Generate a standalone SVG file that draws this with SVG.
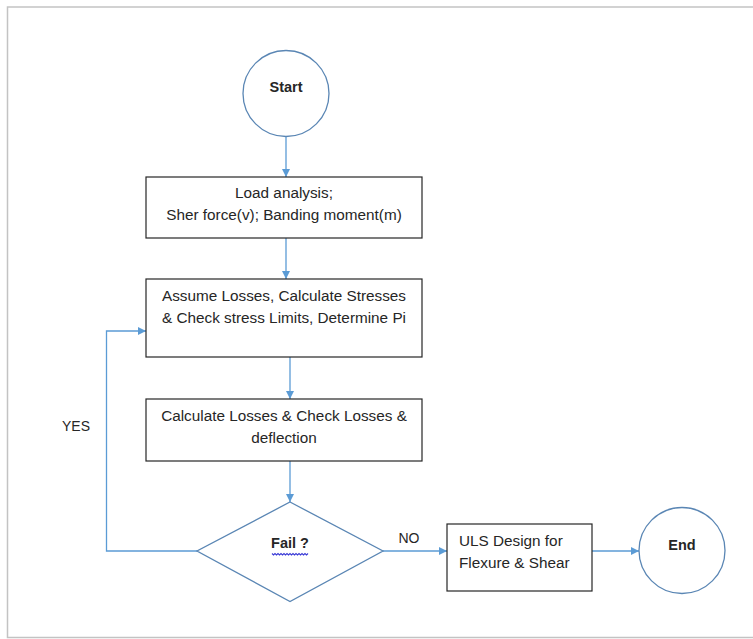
<svg xmlns="http://www.w3.org/2000/svg" width="753" height="639" viewBox="0 0 753 639">
<style>
.frame{fill:none;stroke:#c3c3c3;stroke-width:1.5}
.box{fill:#fff;stroke:#262626;stroke-width:1.2}
.term{fill:#fff;stroke:#5a86b4;stroke-width:1.3}
.conn{fill:none;stroke:#5b9bd5;stroke-width:1.3}
text{font-family:"Liberation Sans",Arial,sans-serif;font-size:15.3px;fill:#262626}
.c{text-anchor:middle}
.b{font-weight:bold;font-size:14.5px}
.lbl{font-size:14px}
.wavy{fill:none;stroke:#3a3ad6;stroke-width:1.1}
</style>
<defs>
<marker id="arr" markerUnits="userSpaceOnUse" markerWidth="9" markerHeight="8" refX="8" refY="4" orient="auto">
<path d="M0,0 L8,4 L0,8 z" fill="#5b9bd5"/>
</marker>
</defs>
<rect width="753" height="639" fill="#fff"/>
<path class="frame" d="M760,7 L7.5,7 L7.5,637.5 L760,637.5"/>
<g id="connectors">
<line class="conn" x1="286" y1="137" x2="286" y2="177" marker-end="url(#arr)"/>
<line class="conn" x1="286" y1="238" x2="286" y2="279" marker-end="url(#arr)"/>
<line class="conn" x1="290" y1="357" x2="290" y2="399" marker-end="url(#arr)"/>
<line class="conn" x1="290" y1="461" x2="290" y2="502" marker-end="url(#arr)"/>
<polyline class="conn" points="197,551 106.5,551 106.5,331 146,331" marker-end="url(#arr)"/>
<line class="conn" x1="383" y1="551" x2="447" y2="551" marker-end="url(#arr)"/>
<line class="conn" x1="592" y1="551" x2="639" y2="551" marker-end="url(#arr)"/>
<text x="76" y="431" class="c lbl">YES</text>
<text x="409" y="543" class="c lbl">NO</text>
</g>
<g id="start">
<circle class="term" cx="286" cy="93.5" r="43"/>
<text x="286" y="91.5" class="c b">Start</text>
</g>
<g id="load">
<rect class="box" x="146" y="177" width="276" height="61"/>
<text x="284" y="198" class="c">Load analysis;</text>
<text x="284" y="220" class="c">Sher force(v); Banding moment(m)</text>
</g>
<g id="assume">
<rect class="box" x="146" y="279" width="276" height="78"/>
<text x="284" y="301" class="c">Assume Losses, Calculate Stresses</text>
<text x="284" y="323" class="c">&amp; Check stress Limits, Determine Pi</text>
</g>
<g id="calc">
<rect class="box" x="146" y="399" width="276" height="62"/>
<text x="284" y="421" class="c">Calculate Losses &amp; Check Losses &amp;</text>
<text x="284" y="443" class="c">deflection</text>
</g>
<g id="fail">
<polygon class="term" points="290,502 383,551 290,601.5 197,551"/>
<text x="290" y="548" class="c b">Fail ?</text>
<path class="wavy" d="M272,553.5 l1.5,1.5 l1.5,-1.5 l1.5,1.5 l1.5,-1.5 l1.5,1.5 l1.5,-1.5 l1.5,1.5 l1.5,-1.5 l1.5,1.5 l1.5,-1.5 l1.5,1.5 l1.5,-1.5 l1.5,1.5 l1.5,-1.5 l1.5,1.5 l1.5,-1.5 l1.5,1.5 l1.5,-1.5 l1.5,1.5 l1.5,-1.5 l1.5,1.5 l1.5,-1.5 l1.5,1.5 l1.5,-1.5"/>
</g>
<g id="uls">
<rect class="box" x="447" y="524" width="145" height="67"/>
<text x="459" y="546">ULS Design for</text>
<text x="459" y="568">Flexure &amp; Shear</text>
</g>
<g id="end">
<circle class="term" cx="682" cy="550.5" r="43"/>
<text x="682" y="550" class="c b">End</text>
</g>
</svg>
